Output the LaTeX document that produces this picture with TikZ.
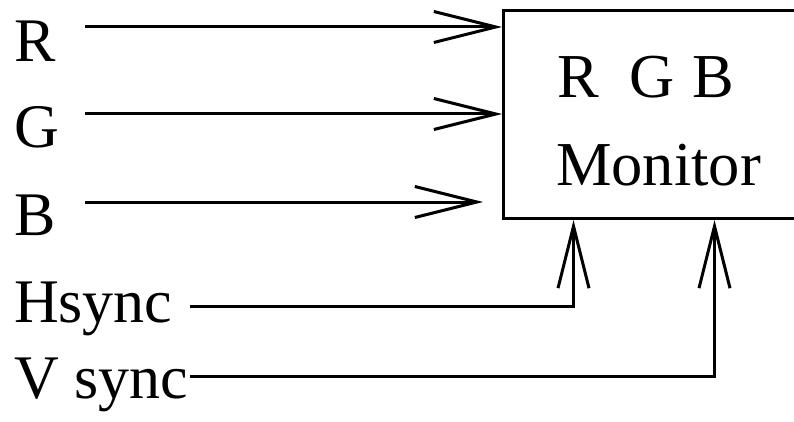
\documentclass[tikz,border=0pt]{standalone}
\usepackage{fontspec}
\setmainfont{Liberation Serif}
\usetikzlibrary{arrows.meta}
\begin{document}
\begin{tikzpicture}[x=1pt,y=-1pt,
  wire/.style={line width=3pt, -{Straight Barb[length=62pt,width=31pt]}},
  lbl/.style={anchor=base west, inner sep=0pt, outer sep=0pt,
              font=\fontsize{62}{72}\selectfont},
  boxtxt/.style={anchor=base west, inner sep=0pt, outer sep=0pt,
              font=\fontsize{62.5}{72}\selectfont}]
  \useasboundingbox (0,0) rectangle (794,422);
  \clip (0,0) rectangle (794,422);

  % monitor box (its right side runs past the frame)
  \node[draw, line width=3pt, minimum width=300pt, minimum height=208pt,
        inner sep=0pt] (mon) at (653.5,114.5) {};
  \node[boxtxt] (tr) at (557,98) {R};
  \node[boxtxt] (tg) at (629,98) {G};
  \node[boxtxt] (tb) at (692,98) {B};
  \node[boxtxt] (tm) at (556,185) {Monitor};

  % signal labels
  \node[lbl] (lr) at (14,62) {R};
  \node[lbl] (lg) at (14,148) {G};
  \node[lbl] (lb) at (14,235) {B};
  \node[lbl] (lh) at (14,322) {Hsync};
  \node[lbl] (lv) at (14,398) {V sync};

  % wire start points
  \coordinate (rs) at (85,27);
  \coordinate (gs) at (85,114);
  \coordinate (bs) at (85,202);
  \coordinate (be) at (483,202);
  \coordinate (hs) at (190,306);
  \coordinate (vs) at (190,376);
  \coordinate (hx) at (573.5,0);
  \coordinate (vx) at (714.5,0);

  \draw[wire] (rs) -- (rs -| mon.west);
  \draw[wire] (gs) -- (gs -| mon.west);
  \draw[wire] (bs) -- (be);
  \draw[wire] (hs) -| (hx |- mon.south);
  \draw[wire] (vs) -| (vx |- mon.south);
\end{tikzpicture}
\end{document}
